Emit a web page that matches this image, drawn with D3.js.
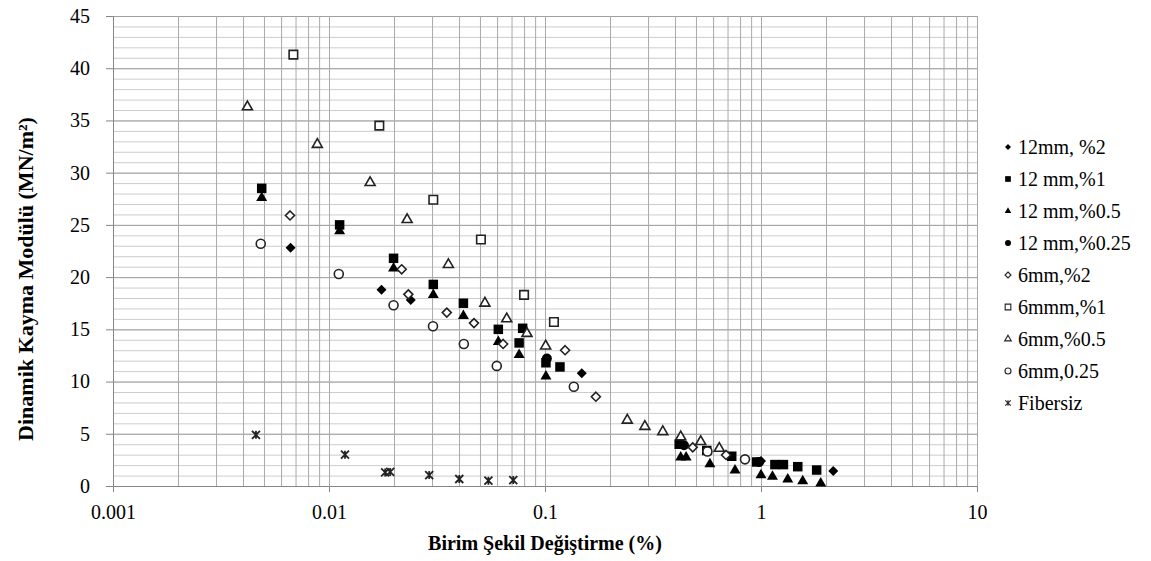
<!DOCTYPE html>
<html>
<head>
<meta charset="utf-8">
<script src="https://cdn.jsdelivr.net/npm/d3@7"></script>
<style>
  body { margin: 0; background: #fff; }
  svg text { font-family: "Liberation Serif", "Times New Roman", Times, serif; fill: #000; }
  .axis path, .axis line { stroke: #868686; }
  .grid path { stroke: none; }
  .grid.vert line { stroke: #a9a9a9; }
  .grid.major line { stroke: #a0a0a0; }
  .grid.minor line { stroke: #cccccc; }
</style>
</head>
<body>
<div id="chart"></div>
<script>
// Series values as [strain (%), modulus (MN/m2)]
const mm12_p2 = [[0.00664, 22.8], [0.0175, 18.8], [0.0239, 17.8], [0.148, 10.8], [1.0, 2.4], [2.16, 1.44]];
const mm12_p1 = [[0.00488, 28.5], [0.0112, 25.0], [0.0199, 21.8], [0.0304, 19.3], [0.0419, 17.5],
  [0.0608, 15.0], [0.0788, 15.1], [0.0759, 13.7], [0.101, 11.8], [0.1173, 11.4], [0.418, 4.0],
  [0.561, 3.4], [0.732, 2.85], [0.955, 2.3], [1.16, 2.05], [1.27, 2.05], [1.48, 1.85], [1.81, 1.53]];
const mm12_p05 = [[0.00488, 27.6], [0.0112, 24.4], [0.0199, 20.85], [0.0304, 18.3], [0.0419, 16.3],
  [0.0608, 13.8], [0.0759, 12.55], [0.101, 10.5], [0.425, 2.75], [0.45, 2.75], [0.58, 2.1],
  [0.758, 1.5], [1.0, 1.05], [1.13, 0.9], [1.33, 0.64], [1.56, 0.48], [1.89, 0.26]];
const mm12_p025 = [[0.102, 12.2], [0.44, 3.9], [0.98, 2.3]];
const mm6_p2 = [[0.0066, 25.9], [0.0217, 20.75], [0.0233, 18.35], [0.0351, 16.6], [0.0469, 15.6],
  [0.064, 13.6], [0.1239, 13.0], [0.172, 8.55], [0.483, 3.7], [0.689, 2.97]];
const mm6_p1 = [[0.00684, 41.3], [0.0171, 34.5], [0.0304, 27.4], [0.0505, 23.6], [0.080, 18.3], [0.110, 15.7]];
const mm6_p05 = [[0.00419, 36.3], [0.00883, 32.7], [0.0155, 29.05], [0.023, 25.5], [0.0357, 21.2],
  [0.0527, 17.5], [0.0665, 16.0], [0.0825, 14.6], [0.1007, 13.4], [0.2404, 6.3], [0.29, 5.7],
  [0.351, 5.2], [0.425, 4.7], [0.526, 4.25], [0.641, 3.6]];
const mm6_p025 = [[0.00483, 23.2], [0.0111, 20.3], [0.0199, 17.3], [0.0303, 15.3], [0.0421, 13.6],
  [0.0598, 11.5], [0.136, 9.5], [0.565, 3.3], [0.843, 2.55]];
const fibersiz = [[0.00459, 4.9], [0.01186, 3.0], [0.0182, 1.3], [0.0192, 1.35], [0.0291, 1.05],
  [0.0401, 0.67], [0.0547, 0.51], [0.0713, 0.57]];

const seriesNames = ['12mm, %2', '12 mm,%1', '12 mm,%0.5', '12 mm,%0.25', '6mm,%2',
  '6mmm,%1', '6mm,%0.5', '6mm,0.25', 'Fibersiz'];
const seriesData = [mm12_p2, mm12_p1, mm12_p05, mm12_p025, mm6_p2, mm6_p1, mm6_p05, mm6_p025, fibersiz];
const seriesShapes = ['diamond', 'square', 'triangle', 'circle', 'diamond', 'square', 'triangle', 'circle', 'star'];
const seriesFilled = [true, true, true, true, false, false, false, false, false];

const xTicks = [0.001, 0.01, 0.1, 1, 10];
const yTicks = [0, 5, 10, 15, 20, 25, 30, 35, 40, 45];
const xTitle = 'Birim Şekil Değiştirme (%)';
const yTitle = 'Dinamik Kayma Modülü (MN/m²)';

const W = 1151, H = 561;
const plot = {left: 113, right: 977, top: 16, bottom: 486};

const svg = d3.select('#chart').append('svg')
  .attr('width', W)
  .attr('height', H);

const x = d3.scaleLog().domain([0.001, 10]).range([plot.left, plot.right]);
const y = d3.scaleLinear().domain([0, 45]).range([plot.bottom, plot.top]);
const pw = plot.right - plot.left;
const ph = plot.bottom - plot.top;

// Grid: minor horizontal every 1, major every 5, vertical at every log step
svg.append('g')
  .attr('class', 'grid minor')
  .attr('transform', `translate(${plot.left},0)`)
  .call(d3.axisLeft(y).tickValues(d3.range(1, 46)).tickSize(-pw).tickFormat(''));
svg.append('g')
  .attr('class', 'grid major')
  .attr('transform', `translate(${plot.left},0)`)
  .call(d3.axisLeft(y).tickValues(yTicks.slice(1)).tickSize(-pw).tickFormat(''));
svg.append('g')
  .attr('class', 'grid vert')
  .attr('transform', `translate(0,${plot.bottom})`)
  .call(d3.axisBottom(x).tickValues(x.ticks().filter(t => t > 0.001)).tickSize(-ph).tickFormat(''));

// Axes
svg.append('g')
  .attr('class', 'axis')
  .attr('transform', `translate(0,${plot.bottom})`)
  .call(d3.axisBottom(x).tickValues(xTicks).tickFormat(d => String(d)).tickSize(6).tickPadding(13))
  .call(g => g.selectAll('text').style('font-size', '20px'));
svg.append('g')
  .attr('class', 'axis')
  .attr('transform', `translate(${plot.left},0)`)
  .call(d3.axisLeft(y).tickValues(yTicks).tickSize(7).tickPadding(16))
  .call(g => g.selectAll('text').style('font-size', '20px'));

// Titles
svg.append('text')
  .attr('x', (plot.left + plot.right) / 2)
  .attr('y', 550)
  .attr('text-anchor', 'middle')
  .style('font-size', '20px')
  .style('font-weight', 'bold')
  .text(xTitle);
svg.append('text')
  .attr('transform', 'translate(33,279) rotate(-90)')
  .attr('text-anchor', 'middle')
  .style('font-size', '22px')
  .style('font-weight', 'bold')
  .text(yTitle);

function markerPath(shape, s) {
  // s = nominal marker width in px
  if (shape === 'square') return d3.symbol(d3.symbolSquare, s * s)();
  if (shape === 'circle') return d3.symbol(d3.symbolCircle, Math.PI * s * s / 4)();
  if (shape === 'triangle') return d3.symbol(d3.symbolTriangle, s * s * Math.sqrt(3) / 4)();
  if (shape === 'diamond') {
    const r = s / 2;
    return `M0,${-r}L${r},0L0,${r}L${-r},0Z`;
  }
  const r = s / 2;
  return `M${-r},${-r}L${r},${r}M${-r},${r}L${r},${-r}M0,${-r}L0,${r}`;
}
const markerSize = {square: 9.5, circle: 10, triangle: 11, diamond: 10, star: 9};

function styleMarker(sel, i) {
  const shape = seriesShapes[i];
  if (shape === 'star') {
    sel.style('fill', 'none').style('stroke', '#222').style('stroke-width', 1.8);
  } else if (seriesFilled[i]) {
    sel.style('fill', '#000').style('stroke', 'none');
  } else {
    sel.style('fill', '#fff').style('stroke', '#222').style('stroke-width', 1.6);
  }
}

// Data points
seriesData.forEach((pts, i) => {
  const shape = seriesShapes[i];
  const s = markerSize[shape] - (seriesFilled[i] ? 0 : 1);
  svg.append('g')
    .selectAll('path')
    .data(pts)
    .enter().append('path')
    .attr('d', markerPath(shape, s))
    .attr('transform', d => `translate(${x(d[0])},${y(d[1])})`)
    .call(styleMarker, i);
});

// Legend
const legend = svg.append('g')
  .selectAll('g')
  .data(seriesNames)
  .enter().append('g')
  .attr('transform', (_, i) => `translate(1008,${147 + 32 * i})`);
legend.each(function(name, i) {
  const g = d3.select(this);
  const shape = seriesShapes[i];
  g.append('path')
    .attr('d', markerPath(shape, markerSize[shape] * 0.6))
    .call(styleMarker, i)
    .style('stroke-width', seriesFilled[i] ? null : 1.1);
  g.append('text')
    .attr('x', 10)
    .attr('dy', '0.35em')
    .style('font-size', '20px')
    .text(name);
});
</script>
</body>
</html>
